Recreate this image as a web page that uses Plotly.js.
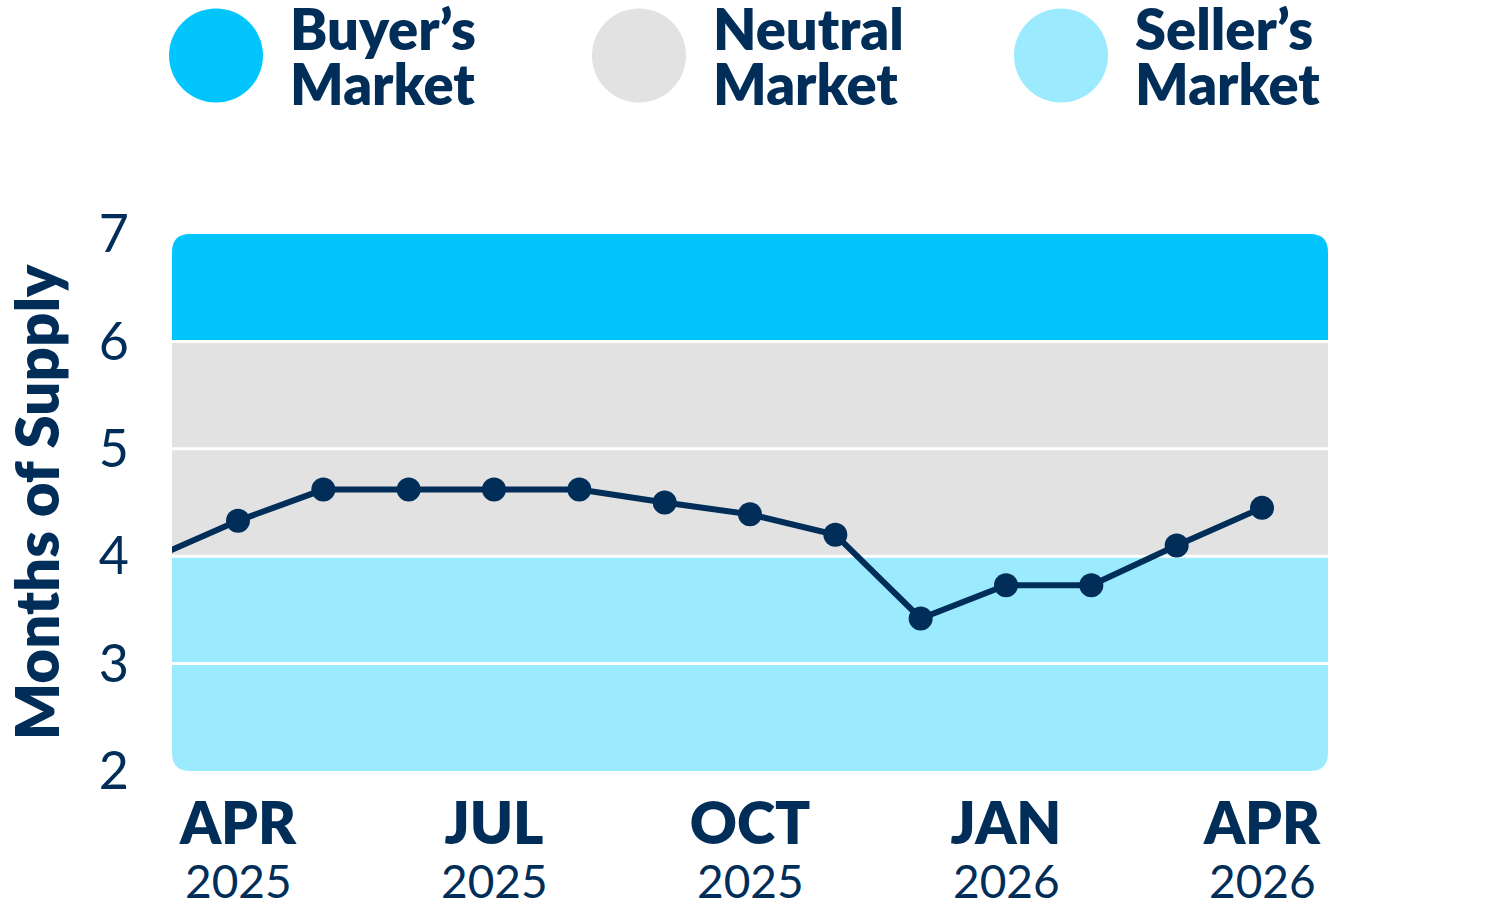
<!DOCTYPE html>
<html>
<head>
<meta charset="utf-8">
<script src="https://cdn.plot.ly/plotly-3.0.1.min.js"></script>
<style>html,body{margin:0;padding:0;background:#fff;}#chart{width:1501px;height:907px;}</style>
</head>
<body>
<div id="chart"></div>
<script>
// ---- data ----
const months = ['Mar 2025','Apr 2025','May 2025','Jun 2025','Jul 2025','Aug 2025','Sep 2025','Oct 2025','Nov 2025','Dec 2025','Jan 2026','Feb 2026','Mar 2026','Apr 2026'];
const monthsOfSupply = [3.98, 4.33, 4.62, 4.62, 4.62, 4.62, 4.5, 4.39, 4.2, 3.42, 3.73, 3.73, 4.1, 4.45];
const tickMonths = ['Apr 2025','Jul 2025','Oct 2025','Jan 2026','Apr 2026'];
const tickMonthText = ['APR','JUL','OCT','JAN','APR'];
const tickYearText = ['2025','2025','2025','2026','2026'];
const yTickVals = [2,3,4,5,6,7];
const yTickText = ['2','3','4','5','6','7'];
const marketNames = ['Buyer’s','Neutral','Seller’s'];
const marketBands = [[6,7],[4,6],[2,4]];
const marketColors = ['#03C5FE','#E2E2E2','#9BEAFD'];
const bandSeparators = [3,4,5,6];

// ---- geometry helpers ----
const W = 1501, H = 907;
const M = {l:172, r:173, t:234, b:136};
const plotW = W - M.l - M.r, plotH = H - M.t - M.b;
const navy = '#012D59';
const xIdx = months.map((m,i)=>i);
const tickVals = tickMonths.map(m=>months.indexOf(m));
const firstTick = tickVals[0], lastTick = tickVals[tickVals.length-1];
const step = plotW / ((lastTick - firstTick) + 2*(66/85.33));
const xPad = 66/step;
const xr = [firstTick - xPad, lastTick + xPad];
const yr = [2,7];
const pyPaper = py => (H - M.b - py)/plotH;
const pxPaper = px => (px - M.l)/plotW;

const rx = 18 * (xr[1]-xr[0]) / plotW;
const ry = 18 * (yr[1]-yr[0]) / plotH;

const shapes = [];
marketBands.forEach((b,i)=>{
  const [y0,y1] = b; const x0 = xr[0], x1 = xr[1];
  let path;
  if (y1 === yr[1]) {
    path = `M${x0},${y0} L${x0},${y1-ry} Q${x0},${y1} ${x0+rx},${y1} L${x1-rx},${y1} Q${x1},${y1} ${x1},${y1-ry} L${x1},${y0} Z`;
  } else if (y0 === yr[0]) {
    path = `M${x0},${y1} L${x1},${y1} L${x1},${y0+ry} Q${x1},${y0} ${x1-rx},${y0} L${x0+rx},${y0} Q${x0},${y0} ${x0},${y0+ry} Z`;
  } else {
    path = `M${x0},${y0} L${x0},${y1} L${x1},${y1} L${x1},${y0} Z`;
  }
  shapes.push({type:'path', path, xref:'x', yref:'y', fillcolor:marketColors[i], line:{width:0}, layer:'below'});
});
bandSeparators.forEach(v=>{
  shapes.push({type:'line', xref:'x', yref:'y', x0:xr[0], x1:xr[1], y0:v, y1:v, line:{color:'#ffffff', width:3}, layer:'below'});
});

// legend circles + labels
const legendCenters = [216, 639, 1061];
const annotations = [];
marketNames.forEach((name,i)=>{
  shapes.push({type:'circle', xref:'paper', yref:'paper', xsizemode:'pixel', ysizemode:'pixel',
    xanchor:pxPaper(legendCenters[i]), yanchor:pyPaper(55.5), x0:-47, x1:47, y0:-47, y1:47,
    fillcolor:marketColors[i], line:{width:0}});
  const common = {xref:'paper', yref:'paper', xanchor:'left', yanchor:'middle', showarrow:false,
    font:{family:'Lato, sans-serif', size:56, color:navy, weight:800}};
  annotations.push(Object.assign({}, common, {x:pxPaper(legendCenters[i]+72), y:pyPaper(28), text:name}));
  annotations.push(Object.assign({}, common, {x:pxPaper(legendCenters[i]+72), y:pyPaper(83), text:'Market'}));
});
// year labels under month ticks
tickVals.forEach((v,i)=>{
  annotations.push({xref:'x', yref:'paper', x:v, y:pyPaper(880), xanchor:'center', yanchor:'middle', showarrow:false,
    text:tickYearText[i], font:{family:'Lato, sans-serif', size:46, color:navy, weight:400}});
});

const trace = {
  x: xIdx, y: monthsOfSupply, text: months, type:'scatter', mode:'lines+markers',
  line:{color:navy, width:6}, marker:{color:navy, size:24},
  hovertemplate:'%{text}: %{y}<extra></extra>', cliponaxis:true
};

const layout = {
  width:W, height:H, margin:M, paper_bgcolor:'#ffffff', plot_bgcolor:'rgba(0,0,0,0)',
  showlegend:false,
  xaxis:{range:xr, tickvals:tickVals, ticktext:tickMonthText, showgrid:false, zeroline:false, showline:false, ticks:'',
    ticklabelstandoff:14, tickfont:{family:'Lato, sans-serif', size:58, color:navy, weight:800}, fixedrange:true},
  yaxis:{range:yr, tickvals:yTickVals, ticktext:yTickText, showgrid:false, zeroline:false, showline:false, ticks:'',
    ticklabelstandoff:42, tickfont:{family:'Lato, sans-serif', size:52, color:navy, weight:400}, fixedrange:true,
    title:{text:'Months of Supply', standoff:37, font:{family:'Lato, sans-serif', size:60, color:navy, weight:800}}},
  shapes, annotations
};
Plotly.newPlot('chart', [trace], layout, {displayModeBar:false, staticPlot:true});
</script>
</body>
</html>
